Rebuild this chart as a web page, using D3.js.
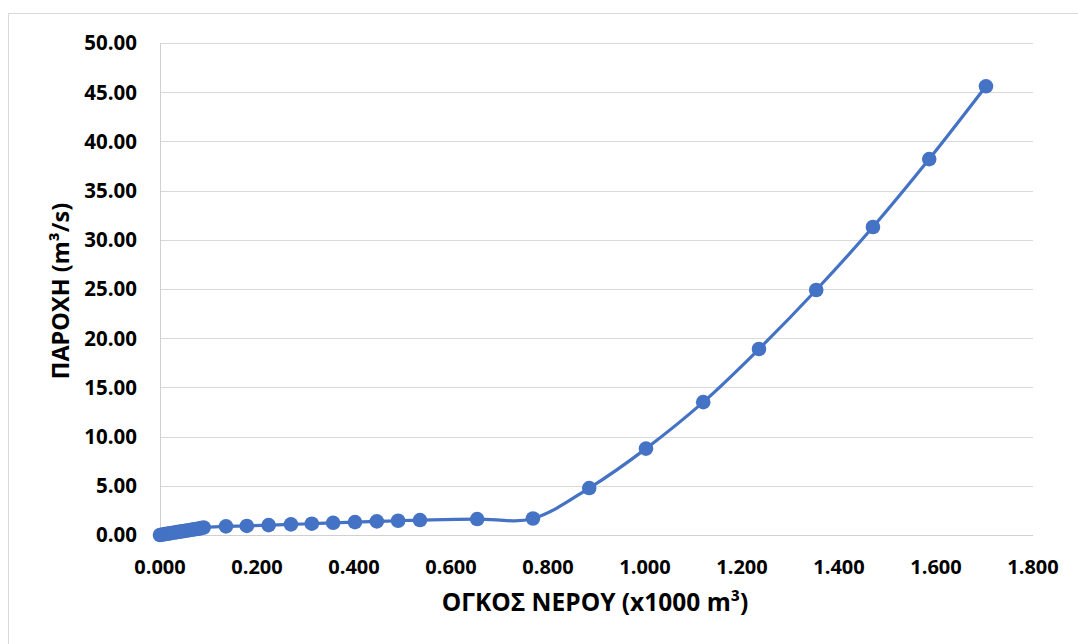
<!DOCTYPE html>
<html><head><meta charset="utf-8">
<script src="https://cdn.jsdelivr.net/npm/d3@7"></script>
<style>
html,body{margin:0;padding:0;background:#fff;}
svg{display:block;}
text{font-family:"Open Sans","Noto Sans",sans-serif;font-weight:700;fill:#000;}
</style></head>
<body>
<script>
// Data: volume (x1000 m3) and discharge (m3/s)
const volume = [0.000,0.005,0.010,0.015,0.020,0.025,0.030,0.035,0.040,0.045,0.050,0.055,0.060,0.065,0.070,0.075,0.080,0.085,0.090,
  0.136,0.179,0.224,0.270,0.313,0.357,0.402,0.447,0.491,0.536,0.654,0.769,0.885,1.002,1.120,1.235,1.353,1.470,1.586,1.703];
const discharge = [0.00,0.05,0.09,0.13,0.17,0.21,0.25,0.29,0.33,0.37,0.41,0.45,0.49,0.53,0.57,0.61,0.65,0.70,0.76,
  0.88,0.92,1.00,1.08,1.15,1.24,1.31,1.38,1.45,1.52,1.62,1.68,4.77,8.78,13.50,18.90,24.90,31.30,38.20,45.60];
const xTicks = [0,0.2,0.4,0.6,0.8,1.0,1.2,1.4,1.6,1.8];
const yTicks = [0,5,10,15,20,25,30,35,40,45,50];
const xTitle = "ΟΓΚΟΣ ΝΕΡΟΥ (x1000 m³)";
const yTitle = "ΠΑΡΟΧΗ (m³/s)";

(function(){
const W = 1078, H = 644;
const mL = 160, mR = 1033, mT = 43, mB = 535;
const svg = d3.select("body").append("svg").attr("width", W).attr("height", H);

svg.append("rect").attr("x", 8.5).attr("y", 13.5).attr("width", W + 10).attr("height", H + 10)
  .attr("fill", "#fff").attr("stroke", "#d9d9d9").attr("stroke-width", 1);

const x = d3.scaleLinear().domain([0, 1.8]).range([mL, mR]);
const y = d3.scaleLinear().domain([0, 50]).range([mB, mT]);

svg.append("g").selectAll("line").data(yTicks.filter(d => d > 0)).join("line")
  .attr("x1", mL).attr("x2", mR)
  .attr("y1", d => Math.round(y(d)) + 0.5).attr("y2", d => Math.round(y(d)) + 0.5)
  .attr("stroke", "#d9d9d9").attr("stroke-width", 1);

svg.append("line").attr("x1", mL + 0.5).attr("x2", mL + 0.5).attr("y1", mT).attr("y2", mB)
  .attr("stroke", "#d0d0d0").attr("stroke-width", 1);
svg.append("line").attr("x1", mL).attr("x2", mR).attr("y1", mB + 0.5).attr("y2", mB + 0.5)
  .attr("stroke", "#d0d0d0").attr("stroke-width", 1);

svg.append("g").selectAll("text").data(yTicks).join("text")
  .attr("x", 137).attr("y", d => y(d)).attr("dy", "0.36em")
  .attr("text-anchor", "end").style("font-size", "20.5px")
  .text(d => d.toFixed(2));

svg.append("g").selectAll("text").data(xTicks).join("text")
  .attr("x", d => x(d)).attr("y", 574)
  .attr("text-anchor", "middle").style("font-size", "20px")
  .text(d => d.toFixed(3));

svg.append("text").attr("x", 595).attr("y", 611)
  .attr("text-anchor", "middle").style("font-size", "24.5px").text(xTitle);
svg.append("text").attr("transform", "translate(69,291) rotate(-90)")
  .attr("text-anchor", "middle").style("font-size", "23.5px").text(yTitle);

const pts = volume.map((v, i) => [v, discharge[i]]);
const line = d3.line().x(d => x(d[0])).y(d => y(d[1])).curve(d3.curveCardinal.tension(0));
svg.append("path").attr("d", line(pts)).attr("fill", "none")
  .attr("stroke", "#4472C4").attr("stroke-width", 3.2);
svg.append("g").selectAll("circle").data(pts).join("circle")
  .attr("cx", d => x(d[0])).attr("cy", d => y(d[1])).attr("r", 7.3)
  .attr("fill", "#4472C4");
})();
</script>
</body></html>
